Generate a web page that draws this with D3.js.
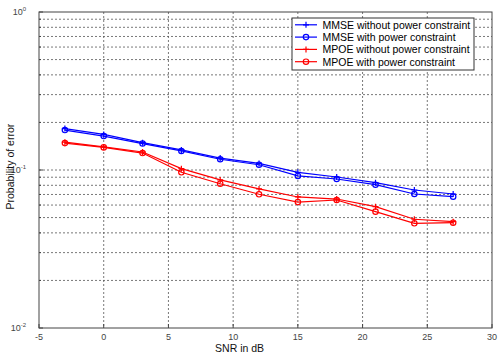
<!DOCTYPE html>
<html>
<head>
<meta charset="utf-8">
<script src="https://cdn.jsdelivr.net/npm/d3@7"></script>
<style>
  body { margin: 0; background: #fff; }
  svg { display: block; font-family: "Liberation Sans", Arial, sans-serif; }
</style>
</head>
<body>
<div id="chart"></div>
<script>
/* ── data ──────────────────────────────────────────────────── */
const snr = [-3, 0, 3, 6, 9, 12, 15, 18, 21, 24, 27];
const mmseNoPC   = [0.183, 0.168, 0.149, 0.134, 0.119, 0.110, 0.0967, 0.0903, 0.0831, 0.0747, 0.0705];
const mmsePC     = [0.179, 0.164, 0.147, 0.132, 0.117, 0.108, 0.0917, 0.0877, 0.0807, 0.0705, 0.0678];
const mpoeNoPC   = [0.150, 0.140, 0.130, 0.102, 0.0865, 0.0759, 0.0675, 0.0655, 0.0586, 0.0488, 0.0471];
const mpoePC     = [0.148, 0.139, 0.128, 0.0967, 0.0819, 0.0702, 0.0627, 0.0646, 0.0545, 0.0460, 0.0464];
const xTicks = [-5, 0, 5, 10, 15, 20, 25, 30];
const yExps  = [0, -1, -2];

const series = [
  { label: 'MMSE without power constraint', values: mmseNoPC, color: '#0000ff', marker: 'plus' },
  { label: 'MMSE with power constraint',    values: mmsePC,   color: '#0000ff', marker: 'circle' },
  { label: 'MPOE without power constraint', values: mpoeNoPC, color: '#ff0000', marker: 'plus' },
  { label: 'MPOE with power constraint',    values: mpoePC,   color: '#ff0000', marker: 'circle' },
];

/* ── layout ───────────────────────────────────────────────── */
const W = 499, H = 356;
const m = { t: 12, r: 7, b: 28, l: 39 };
const w = W - m.l - m.r, h = H - m.t - m.b;

const svg = d3.select('#chart').append('svg').attr('width', W).attr('height', H);
const g = svg.append('g').attr('transform', `translate(${m.l},${m.t})`);

const x = d3.scaleLinear().domain([-5, 30]).range([0, w]);
const y = d3.scaleLog().domain([0.01, 1]).range([h, 0]);

/* grid: vertical at x ticks, horizontal at every log tick */
const yGrid = [];
[0.01, 0.1].forEach(b => { for (let k = 1; k <= 9; k++) yGrid.push(b * k); });
yGrid.push(1);

g.append('g').selectAll('line').data(xTicks.slice(1, -1)).join('line')
  .attr('x1', d => x(d)).attr('x2', d => x(d)).attr('y1', 0).attr('y2', h)
  .attr('stroke', '#555').attr('stroke-width', 0.8).attr('stroke-dasharray', '2,2');
g.append('g').selectAll('line').data(yGrid.filter(v => v > 0.01 && v < 1)).join('line')
  .attr('x1', 0).attr('x2', w).attr('y1', d => y(d)).attr('y2', d => y(d))
  .attr('stroke', '#555').attr('stroke-width', 0.8).attr('stroke-dasharray', '2,2');

/* frame */
g.append('rect').attr('width', w).attr('height', h)
  .attr('fill', 'none').attr('stroke', '#444').attr('stroke-width', 1);

/* inward ticks */
g.append('g').selectAll('line').data(xTicks).join('line')
  .attr('x1', d => x(d)).attr('x2', d => x(d)).attr('y1', h).attr('y2', h - 4)
  .attr('stroke', '#444');
g.append('g').selectAll('line').data(yGrid).join('line')
  .attr('x1', 0).attr('x2', d => [0.01, 0.1, 1].includes(d) ? 4 : 2)
  .attr('y1', d => y(d)).attr('y2', d => y(d)).attr('stroke', '#444');

/* tick labels */
g.append('g').selectAll('text').data(xTicks).join('text')
  .attr('x', d => x(d)).attr('y', h + 12).attr('text-anchor', 'middle')
  .attr('font-size', 9).attr('fill', '#444').text(d => d);

const yl = g.append('g').selectAll('text').data(yExps).join('text')
  .attr('x', -13).attr('y', d => y(Math.pow(10, d)) + 3).attr('text-anchor', 'end')
  .attr('font-size', 9).attr('fill', '#444');
yl.append('tspan').text('10');
yl.append('tspan').attr('dy', -4).attr('font-size', 6).text(d => d);

/* axis titles */
svg.append('text').attr('x', m.l + x(10.5)).attr('y', 352)
  .attr('text-anchor', 'middle').attr('font-size', 10.5).attr('fill', '#111').text('SNR in dB');
svg.append('text')
  .attr('transform', `translate(14,${m.t + y(0.105)}) rotate(-90)`)
  .attr('text-anchor', 'middle').attr('font-size', 10.5).attr('fill', '#111')
  .text('Probability of error');

/* lines + markers */
const line = d3.line().x((d, i) => x(snr[i])).y(d => y(d));

function drawMarker(sel, type, color) {
  if (type === 'plus') {
    sel.append('path').attr('d', 'M-3,0H3M0,-3V3')
      .attr('stroke', color).attr('stroke-width', 1.2).attr('fill', 'none');
  } else {
    sel.append('circle').attr('r', 2.7)
      .attr('stroke', color).attr('stroke-width', 1.2).attr('fill', 'none');
  }
}

series.forEach(s => {
  g.append('path').datum(s.values)
    .attr('fill', 'none').attr('stroke', s.color).attr('stroke-width', 1.2).attr('d', line);
  const mk = g.append('g').selectAll('g').data(s.values).join('g')
    .attr('transform', (d, i) => `translate(${x(snr[i])},${y(d)})`);
  drawMarker(mk, s.marker, s.color);
});

/* legend */
const leg = svg.append('g').attr('transform', 'translate(292,18)');
leg.append('rect').attr('width', 182).attr('height', 52)
  .attr('fill', '#fff').attr('stroke', '#333').attr('stroke-width', 1);
series.forEach((s, i) => {
  const row = leg.append('g').attr('transform', `translate(0,${6.8 + i * 12.3})`);
  row.append('line').attr('x1', 3).attr('x2', 25).attr('y1', 0).attr('y2', 0)
    .attr('stroke', s.color).attr('stroke-width', 1.2);
  drawMarker(row.append('g').attr('transform', 'translate(14,0)'), s.marker, s.color);
  row.append('text').attr('x', 30.5).attr('y', 4)
    .attr('font-size', 10.5).attr('fill', '#000').text(s.label);
});
</script>
</body>
</html>
